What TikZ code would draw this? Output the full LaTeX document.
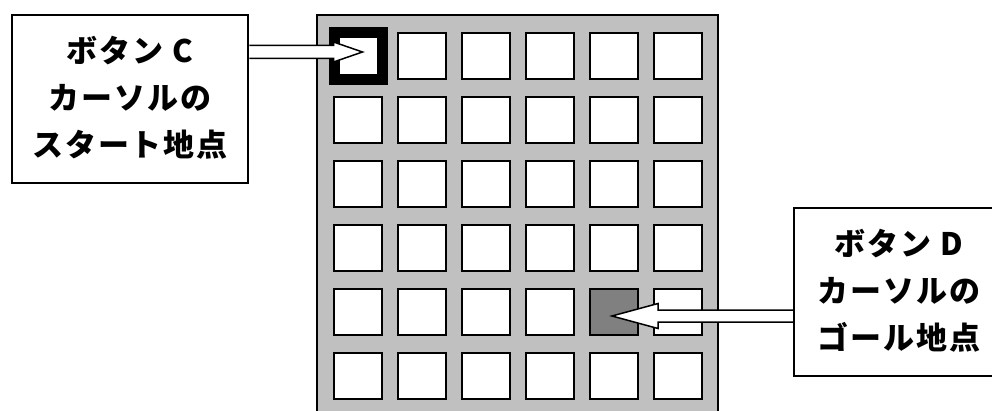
\documentclass[tikz,border=0pt]{standalone}
\usepackage{fontspec}
\newfontfamily\jp{Noto Sans CJK JP}[LetterSpace=6]
\usetikzlibrary{calc}
\definecolor{panelgray}{HTML}{C0C0C0}
\definecolor{goalgray}{HTML}{808080}
\tikzset{
  cell/.style={draw=black, line width=2pt, fill=white, minimum width=48pt, minimum height=46pt, inner sep=0pt},
  startcell/.style={draw=black, line width=11pt, fill=white, minimum width=48pt, minimum height=47pt, inner sep=0pt},
  goalcell/.style={cell, fill=goalgray},
  labelbox/.style={draw=black, line width=1.5pt, fill=white, inner sep=0pt},
  labeltext/.style={font=\jp\bfseries\fontsize{31}{47}\selectfont, align=center},
  blockarrow/.style={draw=black, line width=1.5pt, fill=white, line join=miter}
}
\begin{document}
\begin{tikzpicture}[x=1pt,y=-1pt]
\useasboundingbox (0,0) rectangle (992,411);
\clip (0,0) rectangle (992,411);
% panel
\draw[fill=panelgray, line width=2pt] (317,15) rectangle (718,440);
% cells
\foreach \r in {0,...,5}{
  \foreach \c in {0,...,5}{
    \node[cell] (c\r\c) at (358+64*\c, 56+64*\r) {};
  }
}
\node[startcell] (start) at (358.5,56) {};
\node[goalcell] (goal) at (614,312) {};
% label boxes
\node[labelbox, minimum width=236pt, minimum height=168pt] (boxC) at (130,99) {};
\node[labeltext] (txtC) at ($(boxC.center)+(0,-1)$) {ボタン C\\カーソルの\\スタート地点};
\node[labelbox, minimum width=236pt, minimum height=168pt] (boxD) at (912,292) {};
\node[labeltext] (txtD) at (899,291) {ボタン D\\カーソルの\\ゴール地点};
% arrow C -> start
\coordinate (tipA) at ($(start.center)+(4,-4)$);
\coordinate (sA) at ($(boxC.east |- tipA)+(1,0)$);
\draw[blockarrow] ($(sA)+(-0.5,-6.5)$) -- ($(tipA)+(-29,-6.5)$) -- ($(tipA)+(-29,-10)$) -- (tipA)
   -- ($(tipA)+(-29,10)$) -- ($(tipA)+(-29,6.5)$) -- ($(sA)+(-0.5,6.5)$);
% arrow D -> goal
\coordinate (tipB) at (612,316);
\coordinate (sB) at ($(boxD.west |- tipB)+(-1,0)$);
\draw[blockarrow] ($(sB)+(0.5,-6)$) -- ($(tipB)+(46,-6)$) -- ($(tipB)+(46,-12.5)$) -- (tipB)
   -- ($(tipB)+(46,12.5)$) -- ($(tipB)+(46,6)$) -- ($(sB)+(0.5,6)$);
\end{tikzpicture}
\end{document}
